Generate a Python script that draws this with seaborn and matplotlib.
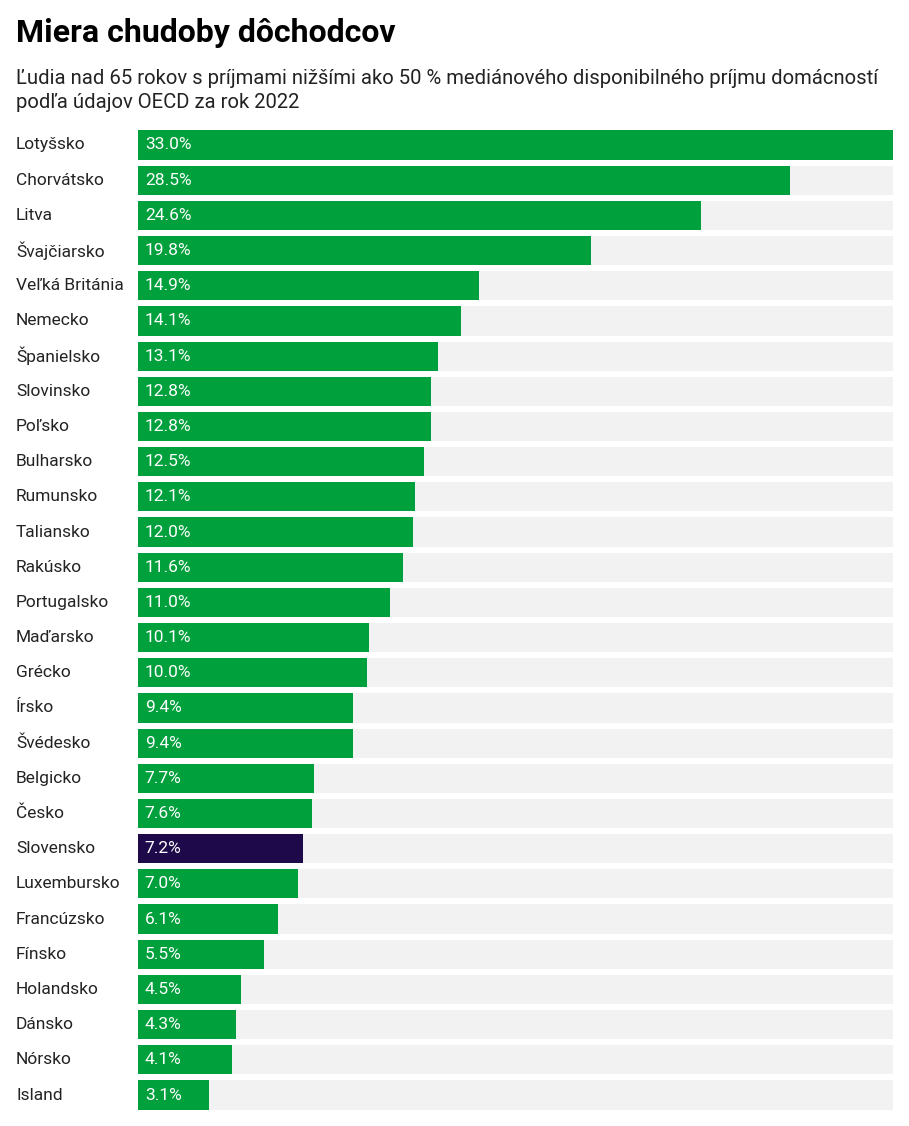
import matplotlib
matplotlib.use("Agg")
import matplotlib.pyplot as plt
import matplotlib.transforms as mtransforms
import seaborn as sns
import pandas as pd

countries = ["Lotyšsko","Chorvátsko","Litva","Švajčiarsko","Veľká Británia","Nemecko","Španielsko",
             "Slovinsko","Poľsko","Bulharsko","Rumunsko","Taliansko","Rakúsko","Portugalsko",
             "Maďarsko","Grécko","Írsko","Švédesko","Belgicko","Česko","Slovensko","Luxembursko",
             "Francúzsko","Fínsko","Holandsko","Dánsko","Nórsko","Island"]
values = [33.0,28.5,24.6,19.8,14.9,14.1,13.1,12.8,12.8,12.5,12.1,12.0,11.6,11.0,
          10.1,10.0,9.4,9.4,7.7,7.6,7.2,7.0,6.1,5.5,4.5,4.3,4.1,3.1]
highlight = "Slovensko"

plt.rcParams["font.family"] = "Roboto"
W, H = 909, 1126
fig = plt.figure(figsize=(W/100, H/100), dpi=100)
top, bot = 127.4, 1112.6
ax = fig.add_axes([138/W, 1-bot/H, (893-138)/W, (bot-top)/H])

df = pd.DataFrame({"country": countries, "value": values, "bg": [33.0]*len(values)})
colors = ["#1e0a4b" if c == highlight else "#00a03c" for c in countries]
sns.barplot(data=df, y="country", x="bg", color="#f2f2f2", width=0.83, ax=ax, orient="h", saturation=1)
sns.barplot(data=df, y="country", x="value", hue="country", palette=colors, legend=False,
            width=0.83, ax=ax, orient="h", saturation=1)
ax.set_xlim(0, 33.0)
ax.set_ylim(len(countries)-0.5, -0.5)
ax.axis("off")

tr = mtransforms.blended_transform_factory(fig.transFigure, ax.transData)
for i, (c, v) in enumerate(zip(countries, values)):
    ax.text(16/W, i, c, transform=tr, ha="left", va="center", fontsize=12.5, color="#222222")
    ax.text(0.3, i, f"{v:.1f}%", ha="left", va="center", fontsize=12.5, color="white")

fig.text(16/W, 1-33/H, "Miera chudoby dôchodcov", fontsize=23, fontweight="bold",
         va="center", ha="left", color="#000000")
fig.text(16/W, 1-79/H, "Ľudia nad 65 rokov s príjmami nižšími ako 50 % mediánového disponibilného príjmu domácností",
         fontsize=14.6, va="center", ha="left", color="#222222")
fig.text(16/W, 1-103/H, "podľa údajov OECD za rok 2022", fontsize=14.6, va="center", ha="left", color="#222222")

fig.savefig("out.png", dpi=100)
